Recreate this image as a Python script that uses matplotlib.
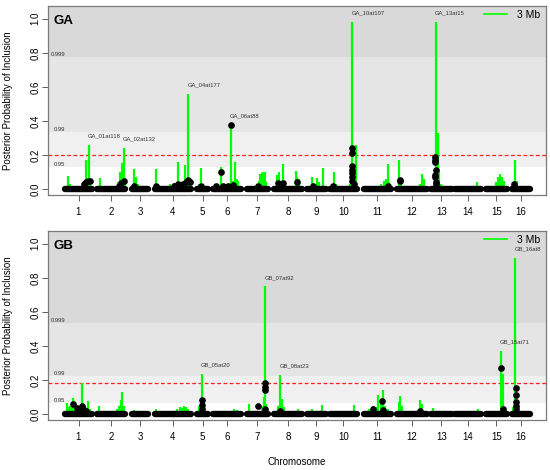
import numpy as np
import matplotlib
matplotlib.use('Agg')
import matplotlib.pyplot as plt
from matplotlib.lines import Line2D

plt.rcParams['font.family'] = ['Liberation Sans', 'DejaVu Sans']

# chromosome extents along the genome axis (cumulative position units)
chrom_names = [str(i) for i in range(1, 17)]
chrom_start = [65, 97, 132, 155, 197, 213, 247, 274, 307, 330, 364, 397, 431, 455, 486, 512]
chrom_end = [92, 125, 148, 191, 208, 241, 268, 302, 326, 357, 391, 427, 452, 481, 507, 530]

# ---- GA : 3 Mb window PPI (green spikes) ----
ga_win_x = [68, 70, 84, 85.7, 87, 88.7, 90,
            100, 118, 120, 121.5, 123.7, 125,
            134, 135.5, 138,
            156, 164, 170, 174, 176, 178.3, 181, 183, 185, 186.5, 188.3, 189.5,
            199, 201, 203,
            215, 219, 220.7, 228, 230.7, 233, 235, 236.5, 238.3,
            248, 259, 260.5, 262, 263.5, 265, 266.5,
            275, 276.7, 278, 279.3, 281, 283, 285, 296, 297.5, 299,
            312, 314, 317, 319, 322.7,
            334, 336, 350, 352.3, 354, 355.7,
            368, 381, 384, 386, 387.7, 389,
            399.3, 401, 420, 422.3, 424,
            435.7, 437.7, 439, 441,
            458, 466, 474, 476.7,
            496, 498, 500, 502, 504, 506,
            513, 515, 517, 519]
ga_win_h = [0.078, 0.03, 0.05, 0.17, 0.06, 0.26, 0.05,
            0.065, 0.04, 0.10, 0.15, 0.24, 0.05,
            0.12, 0.07, 0.03,
            0.115, 0.02, 0.03, 0.035, 0.035, 0.157, 0.04, 0.05, 0.14, 0.05, 0.56, 0.06,
            0.03, 0.125, 0.03,
            0.02, 0.02, 0.13, 0.02, 0.375, 0.05, 0.158, 0.06, 0.05,
            0.02, 0.05, 0.09, 0.095, 0.098, 0.1, 0.04,
            0.02, 0.08, 0.07, 0.098, 0.03, 0.145, 0.03, 0.108, 0.07, 0.06,
            0.072, 0.03, 0.065, 0.04, 0.124,
            0.098, 0.03, 0.03, 0.98, 0.05, 0.26,
            0.02, 0.03, 0.05, 0.06, 0.147, 0.04,
            0.17, 0.04, 0.03, 0.09, 0.06,
            0.98, 0.33, 0.1, 0.03,
            0.02, 0.015, 0.02, 0.04,
            0.04, 0.07, 0.09, 0.07, 0.05, 0.02,
            0.03, 0.17, 0.05, 0.02]

# ---- GA : single marker PPI (black points above baseline) ----
ga_mark_x = [84, 86, 88, 89.5, 119, 121, 123.7, 134, 156, 174, 178, 183, 186, 188.3, 189.5,
             201, 216, 220.7, 223, 228, 230.7, 233, 258, 278.3, 283.3, 296.7, 313, 333,
             352.3, 352.3, 352.3, 352.3, 352.3, 352.3, 352.3, 354.5, 387.7, 400, 400,
             435, 435, 435, 436.5, 435.5, 435, 436, 436, 514]
ga_mark_y = [0.03, 0.04, 0.05, 0.045, 0.02, 0.035, 0.05, 0.02, 0.02, 0.02, 0.03, 0.03, 0.04, 0.055, 0.04,
             0.02, 0.02, 0.10, 0.02, 0.02, 0.376, 0.025, 0.02, 0.033, 0.033, 0.04, 0.015, 0.02,
             0.24, 0.21, 0.136, 0.11, 0.092, 0.072, 0.05, 0.03, 0.02, 0.053, 0.045,
             0.19, 0.17, 0.16, 0.11, 0.082, 0.072, 0.043, 0.03, 0.03]

ga_sig = [0.13, 0.335, 0.776]      # 0.95, 0.99, 0.999 permutation thresholds
ga_cut = 0.2
ga_qtl = ['GA_01at118', 'GA_02at132', 'GA_04at177', 'GA_06at88', 'GA_10at107', 'GA_13at15']
ga_qtl_x = [88.7, 123.7, 188.3, 230.7, 352.3, 435.7]
ga_qtl_h = [0.26, 0.24, 0.56, 0.38, 0.98, 0.98]

# ---- GB ----
gb_win_x = [66.7, 68, 70, 72.3, 73.3, 74.3, 76.7, 79, 82.3, 85, 88.3, 90,
            99, 117, 119, 120.5, 122.3, 124,
            134.3,
            156, 172, 176.7, 180, 182, 184, 186, 188,
            199, 201.7, 203,
            215, 234, 237,
            249.3, 262, 264, 265.3, 266.5,
            278, 280, 282, 284, 298,
            311.7, 316, 321.7,
            333, 354.3,
            369.3, 373.3, 376, 378.3, 381, 383.3, 385, 388,
            399, 400, 401.7, 420, 422.3,
            433.3, 437, 446.7,
            477.7,
            496, 500.7, 503.3, 505,
            513.5, 515, 516.5]
gb_win_h = [0.067, 0.04, 0.05, 0.05, 0.094, 0.07, 0.04, 0.03, 0.18, 0.04, 0.074, 0.03,
            0.045, 0.03, 0.05, 0.08, 0.13, 0.05,
            0.025,
            0.03, 0.02, 0.03, 0.04, 0.035, 0.05, 0.04, 0.03,
            0.05, 0.238, 0.06,
            0.02, 0.03, 0.025,
            0.057, 0.05, 0.1, 0.75, 0.06,
            0.05, 0.232, 0.09, 0.04, 0.03,
            0.03, 0.02, 0.055,
            0.02, 0.055,
            0.03, 0.05, 0.04, 0.11, 0.06, 0.143, 0.05, 0.03,
            0.07, 0.104, 0.05, 0.085, 0.06,
            0.035, 0.02, 0.02,
            0.03,
            0.02, 0.371, 0.238, 0.04,
            0.04, 0.916, 0.05]

gb_mark_x = [73.3, 77, 79, 81.7, 83, 86, 202, 202, 202, 258.3, 265.3, 265.3, 265.3, 265.3,
             280, 373.3, 382.3, 383, 420, 500.7, 503.3, 515.7, 515.7, 515.7, 515.7, 515.7]
gb_mark_y = [0.06, 0.035, 0.03, 0.047, 0.03, 0.02, 0.08, 0.055, 0.03, 0.045, 0.183, 0.16, 0.14, 0.03,
             0.02, 0.03, 0.077, 0.025, 0.02, 0.273, 0.03, 0.155, 0.114, 0.071, 0.05, 0.03]

gb_sig = [0.065, 0.222, 0.533]
gb_cut = 0.185
gb_qtl = ['GB_05at20', 'GB_07at92', 'GB_08at23', 'GB_15at71', 'GB_16at8']
gb_qtl_x = [201.7, 265.3, 280, 500.7, 515]
gb_qtl_h = [0.238, 0.75, 0.232, 0.371, 0.916]

sig_names = ['0.95', '0.99', '0.999']
band_cols = ['#f0f0f0', '#e5e5e5', '#d9d9d9']

chrom_mid = [(s + e) / 2 for s, e in zip(chrom_start, chrom_end)]


def draw_panel(ax, name, win_x, win_h, mark_x, mark_y, sig, cut, qtl, qtl_x, qtl_h):
    ax.set_xlim(48, 546)
    ax.set_ylim(-0.035, 1.075)
    # shaded significance bands
    edges = sig + [1.075]
    for i in range(3):
        ax.axhspan(edges[i], edges[i + 1], color=band_cols[i], lw=0, zorder=0)
        ax.text(0.034, sig[i] + 0.002, sig_names[i], transform=ax.get_yaxis_transform(),
                ha='right', va='bottom', fontsize=4.2, color='#333333', zorder=1)
    ax.axhline(cut, color='#ff2020', ls=(0, (3, 2)), lw=0.9, zorder=2)

    ax.vlines(win_x, 0, win_h, color='#00ff00', lw=1.6, zorder=3)
    for s, e in zip(chrom_start, chrom_end):
        ax.plot([s, e], [0, 0], color='black', lw=4.6, solid_capstyle='round', zorder=4)
    ax.plot(mark_x, mark_y, 'o', color='black', ms=3.8, zorder=5)

    for lab, x, h in zip(qtl, qtl_x, qtl_h):
        ax.text(x - 0.5, h + 0.052, lab, ha='left', va='center', fontsize=4.2,
                color='#333333', zorder=6)

    ax.text(0.011, 0.922, name, transform=ax.transAxes, fontsize=9.5,
            fontweight='bold', va='center', ha='left')
    ax.legend([Line2D([], [], color='#00ff00', lw=1.2)], ['3 Mb'],
              loc='upper right', frameon=False, fontsize=7.5,
              handlelength=2.2, handletextpad=1.0,
              bbox_to_anchor=(1.003, 1.02), borderaxespad=0.3)

    ax.set_xticks(chrom_mid)
    ax.set_xticklabels(chrom_names)
    ax.set_yticks([0, 0.2, 0.4, 0.6, 0.8, 1.0])
    ax.set_yticklabels(['0.0', '0.2', '0.4', '0.6', '0.8', '1.0'], rotation=90, va='center')
    ax.tick_params(axis='both', labelsize=7, length=4.5, width=0.6, color='#444444')
    ax.tick_params(axis='x', pad=4)
    ax.tick_params(axis='y', pad=1)
    for sp in ax.spines.values():
        sp.set_color('#7a7a7a')
        sp.set_linewidth(0.9)
    ax.set_ylabel('Posterior Probability of Inclusion', fontsize=7, va='center')
    ax.yaxis.set_label_coords(-0.08, 0.5)


fig = plt.figure(figsize=(5.5, 4.7), dpi=100)
ax1 = fig.add_axes([48 / 550, 275 / 470, 498 / 550, 189 / 470])
ax2 = fig.add_axes([48 / 550, 50 / 470, 498 / 550, 189 / 470])

draw_panel(ax1, 'GA', ga_win_x, ga_win_h, ga_mark_x, ga_mark_y, ga_sig, ga_cut,
           ga_qtl, ga_qtl_x, ga_qtl_h)
draw_panel(ax2, 'GB', gb_win_x, gb_win_h, gb_mark_x, gb_mark_y, gb_sig, gb_cut,
           gb_qtl, gb_qtl_x, gb_qtl_h)

fig.text(297 / 550, 1 - 461.7 / 470, 'Chromosome', ha='center', va='center', fontsize=7)

fig.savefig('out.png', dpi=100)
